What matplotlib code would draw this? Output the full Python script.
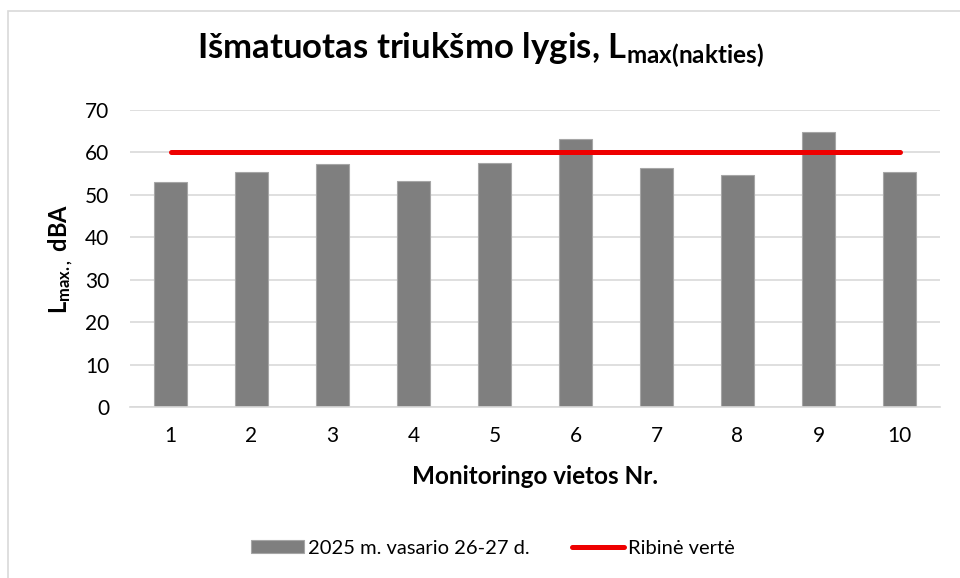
import numpy as np
import matplotlib
matplotlib.use("Agg")
import matplotlib.pyplot as plt
from matplotlib.patches import Rectangle

# Duomenys
vietos = ["1", "2", "3", "4", "5", "6", "7", "8", "9", "10"]
lmax = [53.0, 55.3, 57.2, 53.3, 57.6, 63.1, 56.3, 54.7, 64.8, 55.5]
ribine = [60] * len(vietos)
y_ticks = [0, 10, 20, 30, 40, 50, 60, 70]

serija_bar = "2025 m. vasario 26-27 d."
serija_line = "Ribinė vertė"

plt.rcParams['font.family'] = ['Lato', 'DejaVu Sans']
plt.rcParams['mathtext.fontset'] = 'custom'
plt.rcParams['mathtext.rm'] = 'Lato'
plt.rcParams['mathtext.bf'] = 'Lato:bold'
plt.rcParams['mathtext.it'] = 'Lato:italic'

fig = plt.figure(figsize=(9.6, 5.78), dpi=100)

# remelis aplink diagrama
fig.patches.append(Rectangle((8 / 960, -0.01), 1.0, 1 - 11 / 578 + 0.01,
                             transform=fig.transFigure, fill=False,
                             edgecolor='#d9d9d9', linewidth=1.2))

ax = fig.add_axes([130 / 960, (578 - 407) / 578, 810 / 960, 297 / 578])

x = np.arange(len(vietos))
bars = ax.bar(x, lmax, width=0.4, color='#7f7f7f', edgecolor='#a6a6a6',
              linewidth=0.8, label=serija_bar, zorder=2)
line, = ax.plot(x, ribine, color='#ee0000', linewidth=3.6, solid_capstyle='round',
                label=serija_line, zorder=3)

ax.set_xlim(-0.5, len(vietos) - 0.5)
ax.set_ylim(0, 70)
ax.set_yticks(y_ticks)
ax.set_xticks(x)
ax.set_xticklabels(vietos)
ax.tick_params(axis='both', length=0, labelsize=15, colors='#000000')
ax.tick_params(axis='y', pad=15)
ax.tick_params(axis='x', pad=14)

ax.grid(axis='y', color='#d9d9d9', linewidth=1.2, zorder=0)
ax.set_axisbelow(True)
for s in ['top', 'right', 'left']:
    ax.spines[s].set_visible(False)
ax.spines['bottom'].set_color('#d9d9d9')
ax.spines['bottom'].set_linewidth(1.2)

ax.set_xlabel("Monitoringo vietos Nr.", fontsize=17.5, fontweight='bold', va='center')
ax.xaxis.set_label_coords(0.5, (407 - 476) / 297)

# y asies pavadinimas
fig.text(61 / 960, 1 - 259 / 578, r"$\mathbf{L_{max.,}}$ dBA", rotation=90,
         ha='center', va='center', fontsize=17, fontweight='bold')

fig.text(0.5, 1 - 50 / 578, r"Išmatuotas triukšmo lygis, $\mathbf{L_{max(nakties)}}$",
         ha='center', va='center', fontsize=25, fontweight='bold')

fig.legend(handles=[bars, line], loc='center', bbox_to_anchor=(493 / 960, 1 - 548 / 578),
           ncol=2, frameon=False, fontsize=14.5, handlelength=2.6, handleheight=0.65,
           columnspacing=2.1, handletextpad=0.2)

fig.savefig("out.png", dpi=100)
